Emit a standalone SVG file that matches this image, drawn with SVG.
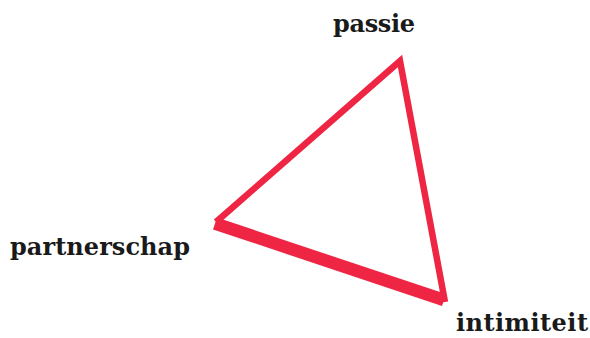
<svg xmlns="http://www.w3.org/2000/svg" width="590" height="338" viewBox="0 0 590 338">
<style>
.lbl{font-family:"DejaVu Serif",serif;font-weight:bold;font-size:24px;fill:#1a1a1a}
.edge{stroke:#ee2644;fill:none;stroke-linejoin:miter;stroke-miterlimit:10}
</style>
<rect width="590" height="338" fill="#ffffff"/>
<g id="connectors">
<path class="edge" d="M216,222 L400,61 L445,302" stroke-width="6.5" stroke-linecap="butt"/>
<line class="edge" x1="215" y1="223.5" x2="444" y2="300" stroke-width="12.5" stroke-linecap="butt"/>
</g>
<g id="passie"><text class="lbl" x="333" y="32" textLength="82">passie</text></g>
<g id="partnerschap"><text class="lbl" x="10" y="255" textLength="180">partnerschap</text></g>
<g id="intimiteit"><text class="lbl" x="456" y="331" textLength="132">intimiteit</text></g>
</svg>
